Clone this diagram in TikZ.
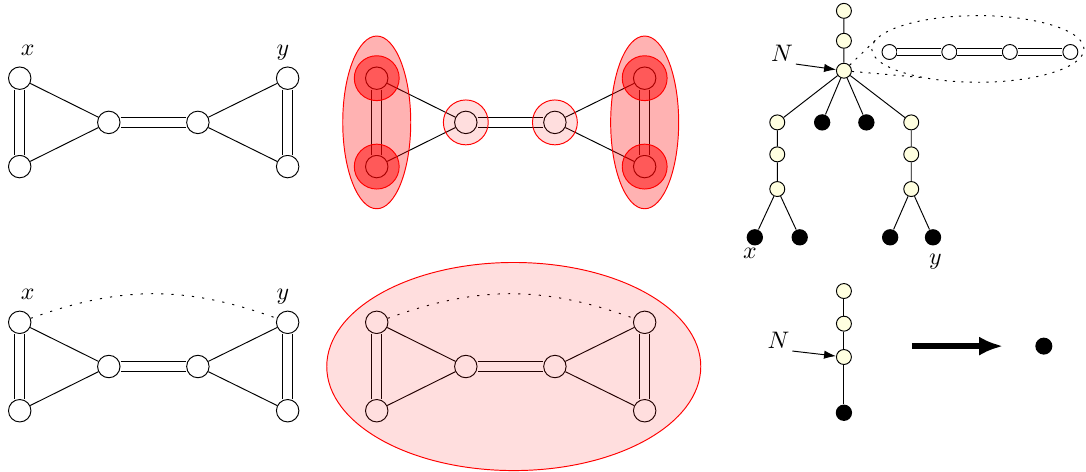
\documentclass[tikz,border=0pt]{standalone}
\usepackage{amsmath,amssymb}
\usepackage{tikz}
\usetikzlibrary{calc,arrows.meta}
\definecolor{pale yellow}{rgb}{1, 1, 0.88}

\tikzset{
	vertex/.style = {circle, draw, inner sep = 0pt, minimum size = 0.33cm},
	dbl/.style = {double, double distance = 3.6pt},
	tvertex/.style = {circle, draw, fill = pale yellow, inner sep = 0pt, minimum size = 0.22cm},
	pvertex/.style = {circle, draw, fill = white, inner sep = 0pt, minimum size = 0.22cm},
	leaf/.style = {circle, fill = black, inner sep = 0pt, minimum size = 0.24cm},
	lab/.style = {text depth = 0pt},
	blob/.style = {draw = red, fill = red, fill opacity = #1},
	dotline/.style = {dash pattern = on 0.9pt off 2.6pt},
	arcline/.style = {dash pattern = on 0.9pt off 3.4pt}
}

% the two triangles, #1 = prefix of the names, #2 = place of x
\newcommand{\gadget}[2]{
	\begin{scope}[shift = {#2}]
		\node[vertex] (#1x) at (0, 0) {};
		\node[vertex] (#1a) at (0, -1.3) {};
		\node[vertex] (#1b) at (1.31, -0.65) {};
		\node[vertex] (#1c) at (2.62, -0.65) {};
		\node[vertex] (#1y) at (3.94, 0) {};
		\node[vertex] (#1d) at (3.94, -1.3) {};
		\draw[dbl] (#1x) -- (#1a) (#1b) -- (#1c) (#1y) -- (#1d);
		\draw (#1x) -- (#1b) -- (#1a) (#1y) -- (#1c) -- (#1d);
	\end{scope}
}

\begin{document}
\begin{tikzpicture}
		\useasboundingbox (0, 0) rectangle (15.97, 6.94);
		% top left
		\gadget{g1}{(0.29, 5.79)}
		\path (g1x.north) node[lab, above = 1pt, xshift = 3.3pt] (g1x lab) {$x$}
			(g1y.north) node[lab, above = 1pt, xshift = -2pt] (g1y lab) {$y$};
		% top middle
		\gadget{g2}{(5.54, 5.79)}
		\path[blob = 0.3] 
			($(g2x)!0.5!(g2a)$) ellipse [x radius = 0.5, y radius = 1.27]
			($(g2y)!0.5!(g2d)$) ellipse [x radius = 0.5, y radius = 1.27];
		\path[blob = 0.5] (g2x) circle (0.33) (g2a) circle (0.33) (g2y) circle (0.33) (g2d) circle (0.33);
		\path[blob = 0.13] (g2b) circle (0.33) (g2c) circle (0.33);
		% bottom left
		\gadget{g3}{(0.29, 2.2)}
		\path (g3x.north) node[lab, above = 1pt, xshift = 3.3pt] (g3x lab) {$x$}
			(g3y.north) node[lab, above = 1pt, xshift = -2pt] (g3y lab) {$y$};
		\draw[arcline] (g3x) to[bend left = 20] (g3y);
		% bottom middle
		\gadget{g4}{(5.54, 2.2)}
		\draw[arcline] (g4x) to[bend left = 20] (g4y);
		\path[blob = 0.13] ($(g4b)!0.5!(g4c) + (0.05, 0)$) ellipse [x radius = 2.75, y radius = 1.53];
		% tree
		\begin{scope}[shift = {(12.41, 5.9)}]
			\node[tvertex] (t2) at (0, 0.88) {};
			\node[tvertex] (t1) at (0, 0.44) {};
			\node[tvertex] (n1) at (0, 0) {};
			\node[tvertex] (l1) at (-0.98, -0.76) {};
			\node[leaf] (k1) at (-0.32, -0.76) {};
			\node[leaf] (k2) at (0.33, -0.76) {};
			\node[tvertex] (r1) at (0.99, -0.76) {};
			\node[tvertex] (l2) at (-0.98, -1.23) {};
			\node[tvertex] (l3) at (-0.98, -1.74) {};
			\node[tvertex] (r2) at (0.99, -1.23) {};
			\node[tvertex] (r3) at (0.99, -1.74) {};
			\node[leaf] (lx) at (-1.31, -2.45) {};
			\node[leaf] (ly) at (-0.65, -2.45) {};
			\node[leaf] (rx) at (0.68, -2.45) {};
			\node[leaf] (ry) at (1.31, -2.45) {};
			\path (lx.south) node[below = -2.5pt, xshift = -2pt] (x lab) {$x$}
				(ry.south) node[below = 0pt, xshift = 1pt] (y lab) {$y$};
			\draw (t2) -- (t1) -- (n1)
				(n1) -- (l1) -- (l2) -- (l3) -- (lx) (l3) -- (ly)
				(n1) -- (k1) (n1) -- (k2)
				(n1) -- (r1) -- (r2) -- (r3) -- (rx) (r3) -- (ry);
			% the path hanging on N
			\node[pvertex] (p1) at (0.67, 0.275) {};
			\node[pvertex] (p2) at (1.55, 0.275) {};
			\node[pvertex] (p3) at (2.44, 0.275) {};
			\node[pvertex] (p4) at (3.33, 0.275) {};
			\draw[dbl, double distance = 2.2pt] (p1) -- (p2) -- (p3) -- (p4);
			\coordinate (c) at (1.97, 0.32);
			\draw[dotline] (c) ellipse [x radius = 1.56, y radius = 0.49];
			\draw[dotline] (n1) -- ($(c) + (163:1.56 and 0.49)$)
				(n1) -- ($(c) + (240:1.56 and 0.49)$);
			\node[inner sep = 1pt] (nlab1) at (-0.91, 0.26) {$N$};
			\draw[-{Latex[length = 5pt, width = 3.5pt]}] (nlab1.south east) -- (n1);
		\end{scope}
		% contraction
		\begin{scope}[shift = {(12.41, 1.69)}]
			\node[tvertex] (s2) at (0, 0.97) {};
			\node[tvertex] (s1) at (0, 0.49) {};
			\node[tvertex] (n2) at (0, 0) {};
			\node[leaf] (s0) at (0, -0.82) {};
			\draw (s2) -- (s1) -- (n2) -- (s0);
			\node[inner sep = 1pt] (nlab2) at (-0.96, 0.25) {$N$};
			\draw[-{Latex[length = 5pt, width = 3.5pt]}] (nlab2.south east) -- (n2);
			\coordinate (from) at (1, 0.16);
			\coordinate (to) at (2.34, 0.16);
			\node[leaf, minimum size = 0.25cm] (dot) at (2.94, 0.16) {};
			\draw[line width = 2.4pt, -{Latex[length = 10pt, width = 8pt]}] (from) -- (to);
		\end{scope}
	\end{tikzpicture}
\end{document}
